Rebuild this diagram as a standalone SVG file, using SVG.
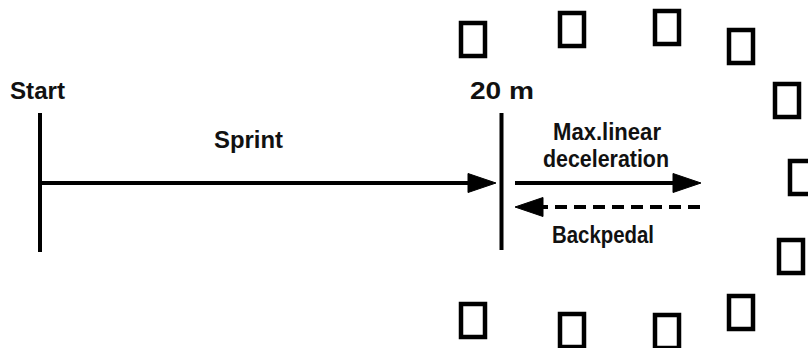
<svg xmlns="http://www.w3.org/2000/svg" width="808" height="348" viewBox="0 0 808 348">
<style>
.lbl{font-family:"Liberation Sans",Arial,sans-serif;font-weight:bold;font-size:24px;fill:#111}
.ln{stroke:#000;stroke-width:4;fill:none}
.cone{fill:none;stroke:#000;stroke-width:4.5}
</style>
<defs>
<marker id="ah" markerUnits="userSpaceOnUse" markerWidth="30" markerHeight="20" refX="1" refY="9.5" orient="auto" overflow="visible">
<path d="M0,0 L28,9.5 L0,19 z" fill="#000" stroke="#000" stroke-width="1" stroke-linejoin="round"/>
</marker>
</defs>
<rect width="808" height="348" fill="#fff"/>
<g id="start-line">
<line class="ln" x1="40" y1="113" x2="40" y2="252"/>
<text class="lbl" x="10" y="99" textLength="55" lengthAdjust="spacingAndGlyphs">Start</text>
</g>
<g id="mark-20m">
<line class="ln" x1="501.5" y1="113" x2="501.5" y2="250"/>
<text class="lbl" x="470" y="99" textLength="64" lengthAdjust="spacingAndGlyphs">20 m</text>
</g>
<g id="connectors">
<line class="ln" x1="40" y1="183" x2="469" y2="183" marker-end="url(#ah)"/>
<line class="ln" x1="515" y1="183" x2="674" y2="183" marker-end="url(#ah)"/>
<line class="ln" x1="700" y1="207" x2="542" y2="207" stroke-dasharray="12 7" marker-end="url(#ah)"/>
<text class="lbl" x="214" y="148" textLength="69" lengthAdjust="spacingAndGlyphs">Sprint</text>
<text class="lbl" x="553" y="140" textLength="108" lengthAdjust="spacingAndGlyphs">Max.linear</text>
<text class="lbl" x="543" y="167" textLength="126" lengthAdjust="spacingAndGlyphs">deceleration</text>
<text class="lbl" x="552" y="243" textLength="102" lengthAdjust="spacingAndGlyphs">Backpedal</text>
</g>
<g id="cones">
<g id="cone1"><rect class="cone" x="461" y="23" width="24" height="33"/></g>
<g id="cone2"><rect class="cone" x="560" y="13" width="24" height="33"/></g>
<g id="cone3"><rect class="cone" x="655" y="11" width="24" height="33"/></g>
<g id="cone4"><rect class="cone" x="729" y="30" width="24" height="33"/></g>
<g id="cone5"><rect class="cone" x="775" y="84" width="24" height="33"/></g>
<g id="cone6"><rect class="cone" x="790" y="161" width="24" height="33"/></g>
<g id="cone7"><rect class="cone" x="779" y="240" width="24" height="33"/></g>
<g id="cone8"><rect class="cone" x="461" y="304" width="24" height="33"/></g>
<g id="cone9"><rect class="cone" x="560" y="314" width="24" height="33"/></g>
<g id="cone10"><rect class="cone" x="655" y="315" width="24" height="33"/></g>
<g id="cone11"><rect class="cone" x="729" y="296" width="24" height="33"/></g>
</g>
</svg>
